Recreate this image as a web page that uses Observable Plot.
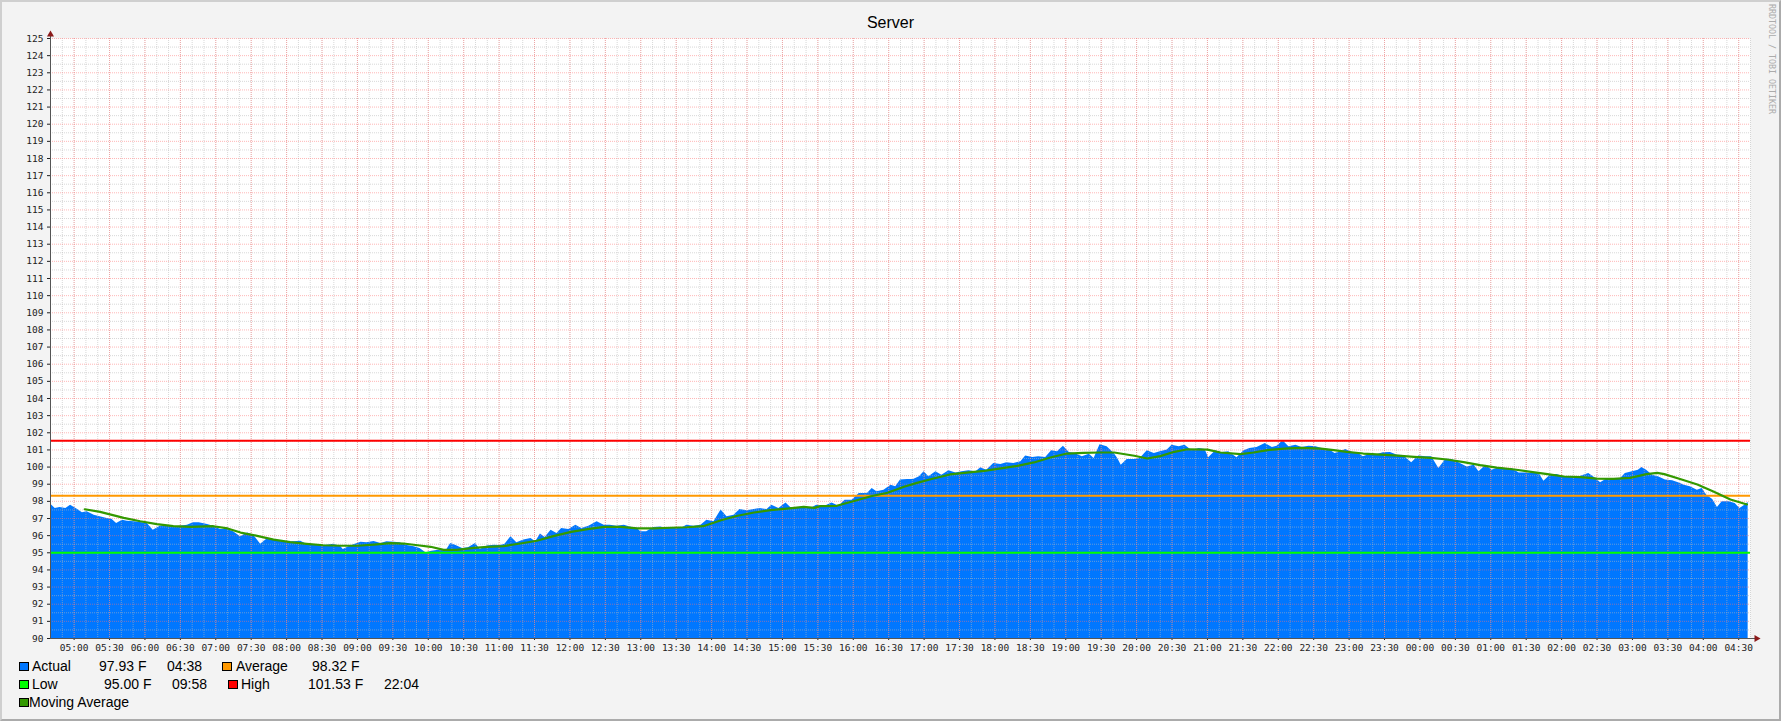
<!DOCTYPE html>
<html>
<head>
<meta charset="utf-8">
<script src="https://cdn.jsdelivr.net/npm/d3@7"></script>
<script src="https://cdn.jsdelivr.net/npm/@observablehq/plot@0.6"></script>
<style>
html, body { margin: 0; padding: 0; background: #f3f3f3; }
#wrap { position: relative; width: 1781px; height: 721px; background: #f3f3f3; overflow: hidden; font-family: "Liberation Sans", Arial, sans-serif; }
#border { position: absolute; left: 0; top: 0; width: 1781px; height: 721px; box-sizing: border-box; border: 2px solid #cfcfcf; border-right-color: #ababab; border-bottom-color: #ababab; pointer-events: none; }
#title { position: relative; height: 30px; }
#title span { position: absolute; left: 0; width: 1781px; top: 14.5px; text-align: center; font-size: 16px; line-height: 16px; color: #000; }
#chart { height: 625px; }
#chart svg { display: block; }
#legend { position: relative; height: 66px; font-size: 14px; line-height: 14px; color: #000; }
#legend span { position: absolute; white-space: pre; }
#legend .sw { position: absolute; width: 10px; height: 9px; box-sizing: border-box; border: 1px solid #000; }
#mark { position: absolute; left: 1767px; top: 4px; writing-mode: vertical-rl; font-family: "DejaVu Sans Mono", monospace; font-size: 8.3px; color: #ababab; white-space: pre; }
</style>
</head>
<body>
<div id="wrap">
  <div id="title"><span>Server</span></div>
  <div id="chart"></div>
  <div id="legend"></div>
  <div id="mark">RRDTOOL / TOBI OETIKER</div>
  <div id="border"></div>
</div>
<script>
// ---------- data ----------
const chartTitle = "Server";

// Actual temperature (time, °F)
const actual = [
["04:40",97.85],["04:44",97.58],["04:48",97.64],["04:53",97.58],["04:57",97.78],["05:03",97.52],["05:07",97.33],["05:11",97.39],
["05:17",97.19],["05:22",97.10],["05:28",97.00],["05:32",96.96],["05:36",96.71],["05:41",96.90],["05:45",96.84],["05:51",96.81],
["05:56",96.77],["06:02",96.71],["06:07",96.32],["06:13",96.55],["06:19",96.55],["06:24",96.51],["06:30",96.55],["06:36",96.61],
["06:41",96.75],["06:46",96.75],["06:53",96.65],["06:58",96.55],["07:04",96.36],["07:10",96.36],["07:15",96.22],["07:21",95.93],
["07:27",96.16],["07:32",96.03],["07:38",95.50],["07:44",95.83],["07:49",95.77],["07:55",95.64],["08:00",95.62],["08:06",95.64],
["08:12",95.68],["08:17",95.50],["08:23",95.46],["08:29",95.42],["08:34",95.44],["08:40",95.50],["08:46",95.35],["08:48",95.19],
["08:54",95.40],["09:03",95.62],["09:08",95.58],["09:14",95.66],["09:20",95.54],["09:25",95.64],["09:31",95.62],["09:36",95.58],
["09:42",95.42],["09:48",95.35],["09:53",95.25],["09:58",95.00],["10:03",95.09],["10:09",95.15],["10:15",95.11],["10:19",95.54],
["10:23",95.44],["10:29",95.25],["10:34",95.29],["10:40",95.54],
["10:44",95.19],["10:50",95.39],["10:56",95.44],["11:01",95.42],["11:05",95.50],["11:10",95.93],["11:15",95.58],["11:21",95.74],
["11:27",95.83],["11:31",95.64],["11:35",96.09],["11:39",95.89],["11:44",96.32],["11:49",96.12],["11:53",96.42],["11:59",96.36],
["12:05",96.61],["12:10",96.42],["12:16",96.55],["12:23",96.81],["12:29",96.61],["12:34",96.61],["12:40",96.55],["12:46",96.61],
["12:51",96.51],["12:57",96.42],["13:00",96.22],["13:05",96.22],["13:11",96.47],["13:17",96.51],["13:22",96.42],["13:28",96.47],
["13:34",96.42],["13:39",96.61],["13:45",96.55],["13:51",96.61],["13:56",96.90],["14:02",96.81],["14:08",97.49],["14:13",97.10],
["14:19",97.19],["14:24",97.52],["14:30",97.45],["14:36",97.52],["14:41",97.58],["14:47",97.52],["14:51",97.78],["14:57",97.58],
["15:03",97.91],["15:07",97.64],["15:12",97.64],["15:18",97.58],["15:24",97.58],["15:29",97.78],["15:35",97.68],["15:42",97.91],
["15:48",97.72],["15:53",98.07],["15:59",98.07],["16:05",98.46],["16:12",98.46],["16:16",98.75],["16:20",98.56],["16:26",98.65],
["16:32",98.94],["16:36",98.85],["16:40",99.24],["16:46",99.27],
["16:51",99.27],["16:56",99.43],["17:00",99.72],["17:04",99.43],["17:10",99.72],["17:15",99.53],["17:21",99.78],["17:27",99.66],
["17:32",99.72],["17:38",99.78],["17:44",99.72],["17:48",99.96],["17:53",99.82],["17:59",100.21],["18:05",100.15],["18:10",100.25],
["18:16",100.21],["18:22",100.31],["18:26",100.64],["18:32",100.56],["18:37",100.60],["18:43",100.56],["18:48",100.95],["18:53",100.89],
["18:58",101.22],["19:03",100.85],["19:08",100.79],["19:14",100.60],["19:20",100.75],["19:24",100.50],["19:29",101.30],["19:35",101.18],
["19:41",100.79],["19:44",100.50],["19:47",100.11],["19:52",100.44],["19:58",100.44],["20:03",100.50],["20:09",100.95],["20:15",100.79],
["20:20",100.89],["20:26",100.99],["20:30",101.28],["20:36",101.18],["20:41",101.28],["20:47",100.95],["20:53",101.08],["20:58",101.03],
["21:01",100.54],["21:07",100.95],["21:12",100.83],["21:18",100.89],["21:25",100.54],["21:31",100.95],["21:36",101.08],["21:42",101.14],
["21:49",101.37],["21:55",101.14],["21:59",101.22],["22:04",101.53],["22:09",101.18],["22:15",101.28],["22:20",101.14],["22:26",101.22],
["22:32",101.18],["22:37",101.08],["22:43",101.03],["22:48",100.79],
["22:53",100.89],["22:57",101.03],["23:03",100.85],["23:08",100.79],["23:12",100.60],["23:18",100.75],["23:24",100.73],["23:29",100.83],
["23:35",100.85],["23:41",100.69],["23:46",100.67],["23:53",100.25],["23:59",100.64],["00:05",100.60],["00:10",100.60],["00:16",99.92],
["00:22",100.46],["00:27",100.44],["00:33",100.25],["00:40",100.01],["00:46",100.11],["00:50",99.72],["00:56",100.11],["01:01",99.82],
["01:07",99.96],["01:12",99.92],["01:18",99.92],["01:24",99.66],["01:29",99.66],["01:35",99.62],["01:41",99.62],["01:45",99.18],
["01:51",99.57],["01:56",99.57],["02:02",99.43],["02:08",99.43],["02:15",99.43],["02:23",99.62],["02:29",99.33],["02:33",99.08],
["02:39",99.33],["02:44",99.33],["02:50",99.33],["02:54",99.62],["03:00",99.72],["03:05",99.82],["03:08",99.97],["03:12",99.82],
["03:17",99.53],["03:22",99.43],["03:28",99.24],["03:34",99.20],["03:39",99.08],["03:44",98.94],["03:49",98.85],["03:55",98.65],
["03:59",98.75],["04:03",98.36],["04:08",98.11],["04:12",97.64],["04:16",97.97],["04:22",97.97],["04:27",97.87],["04:31",97.58],
["04:34",97.72],["04:38",97.93]
];

// Moving average (time, °F)
const movingAverage = [
["05:09",97.54],["05:22",97.39],["05:42",97.04],["05:56",96.84],["06:10",96.67],["06:24",96.55],["06:39",96.51],["06:58",96.55],
["07:10",96.42],["07:21",96.18],["07:35",95.99],["07:49",95.77],["08:03",95.62],["08:17",95.52],["08:31",95.44],["08:46",95.41],
["09:00",95.41],["09:14",95.48],["09:28",95.56],["09:39",95.54],["09:51",95.44],["10:02",95.35],["10:13",95.17],["10:24",95.17],
["10:39",95.29],["10:50",95.35],["11:04",95.39],["11:18",95.54],["11:32",95.70],["11:46",95.97],["12:01",96.22],["12:15",96.38],
["12:29",96.51],["12:43",96.51],["12:57",96.42],["13:11",96.42],["13:25",96.46],["13:39",96.49],["13:53",96.55],["14:08",96.90],
["14:22",97.16],["14:36",97.35],["14:50",97.49],["15:04",97.58],["15:18",97.68],["15:27",97.62],["15:32",97.72],["15:46",97.74],
["16:00",98.01],["16:15",98.30],["16:29",98.50],["16:43",98.85],["16:54",99.08],["17:08",99.33],["17:22",99.57],["17:36",99.68],
["17:51",99.78],["18:05",99.92],["18:19",100.07],["18:33",100.27],["18:47",100.56],["19:01",100.79],["19:15",100.83],["19:29",100.85],
["19:41",100.85],["19:58",100.66],["20:09",100.50],["20:20",100.64],["20:32",100.89],["20:43",101.04],["21:00",101.02],["21:11",100.85],
["21:28",100.75],["21:39",100.85],["21:51",100.99],["22:05",101.08],["22:19",101.12],["22:36",101.08],["22:47",100.99],["22:58",100.89],
["23:12",100.79],["23:27",100.73],["23:41",100.67],["23:55",100.60],["00:09",100.54],["00:23",100.44],["00:37",100.29],["00:51",100.11],
["01:05",99.97],["01:20",99.86],["01:34",99.72],["01:48",99.59],["02:02",99.45],["02:16",99.41],["02:30",99.33],["02:44",99.31],
["02:58",99.37],["03:12",99.59],["03:21",99.66],["03:27",99.59],["03:41",99.29],["03:55",98.98],["04:09",98.56],["04:23",98.11],
["04:37",97.82]
];

const averageValue = 98.32;
const highValue = 101.53;
const lowValue = 95.00;

const xTickLabels = [
"05:00","05:30","06:00","06:30","07:00","07:30","08:00","08:30","09:00","09:30","10:00","10:30",
"11:00","11:30","12:00","12:30","13:00","13:30","14:00","14:30","15:00","15:30","16:00","16:30",
"17:00","17:30","18:00","18:30","19:00","19:30","20:00","20:30","21:00","21:30","22:00","22:30",
"23:00","23:30","00:00","00:30","01:00","01:30","02:00","02:30","03:00","03:30","04:00","04:30"
];
const yTickLabels = [90,91,92,93,94,95,96,97,98,99,100,101,102,103,104,105,106,107,108,109,110,111,112,113,114,115,116,117,118,119,120,121,122,123,124,125];

const timeStart = "04:40";
const timeEnd = "04:40";

const legendNames  = ["Actual", "Average", "Low", "High", "Moving Average"];
const legendColors = ["#0077ff", "#ff9900", "#00ff00", "#ff0000", "#339900"];
const legendValues = ["97.93 F", "98.32 F", "95.00 F", "101.53 F", ""];
const legendTimes  = ["04:38", "", "09:58", "22:04", ""];

// ---------- helpers ----------
const startMin = (() => { const [h, m] = timeStart.split(":").map(Number); return h * 60 + m; })();
function toMin(s) {
  const [h, m] = s.split(":").map(Number);
  let v = h * 60 + m;
  if (v < startMin) v += 1440;
  return v;
}
const endMin = (() => { const [h, m] = timeEnd.split(":").map(Number); return h * 60 + m + 1440; })();
const pad = n => String(n).padStart(2, "0");
const fmt = m => pad(Math.floor(m / 60) % 24) + ":" + pad(m % 60);

const actualData = actual.map(([t, v]) => ({t: toMin(t), v}));
const maData = movingAverage.map(([t, v]) => ({t: toMin(t), v}));
const xTicks = xTickLabels.map(toMin);

const yMin = yTickLabels[0], yMax = yTickLabels[yTickLabels.length - 1];
const minorX = d3.range(startMin, endMin + 1, 10);
const minorY = d3.range(yMin + 0.5, yMax, 1);
const majorY = yTickLabels.slice(1);

const mono = "'DejaVu Sans Mono', monospace";

const chart = Plot.plot({
  width: 1781,
  height: 625,
  marginLeft: 50,
  marginRight: 31,
  marginTop: 8,
  marginBottom: 17,
  style: {background: "transparent", fontFamily: mono, fontSize: "9.5px", overflow: "visible"},
  x: {type: "linear", domain: [startMin, endMin], axis: null, label: null},
  y: {type: "linear", domain: [yMin, yMax], axis: null, label: null},
  marks: [
    Plot.frame({fill: "white", stroke: null}),
    Plot.areaY(actualData, {x: "t", y1: yMin, y2: "v", fill: "#0077ff", curve: "linear"}),
    // grid
    Plot.ruleX(minorX, {stroke: "#b8b8b8", strokeOpacity: 0.55, strokeDasharray: "1,1"}),
    Plot.ruleY(minorY, {stroke: "#b8b8b8", strokeOpacity: 0.55, strokeDasharray: "1,1"}),
    Plot.ruleX(xTicks, {stroke: "#ff6f6f", strokeOpacity: 0.5, strokeDasharray: "1,1"}),
    Plot.ruleY(majorY, {stroke: "#ff6f6f", strokeOpacity: 0.5, strokeDasharray: "1,1"}),
    // horizontal statistics
    Plot.ruleY([highValue], {stroke: "#ff0000", strokeWidth: 2}),
    Plot.ruleY([averageValue], {stroke: "#ff9900", strokeWidth: 2}),
    Plot.ruleY([lowValue], {stroke: "#00ff00", strokeWidth: 2}),
    // moving average
    Plot.line(maData, {x: "t", y: "v", stroke: "#339900", strokeWidth: 2.2}),
    // axes
    Plot.axisY(yTickLabels, {tickSize: 3, tickPadding: 4, tickFormat: d => d, fontSize: 9.5, color: "#222", label: null}),
    Plot.axisX(xTicks, {tickSize: 2, tickPadding: 4, tickFormat: fmt, fontSize: 9.5, color: "#222", label: null}),
    Plot.ruleX([startMin], {y1: yMin, y2: yMax + 0.22, stroke: "#555"}),
    Plot.ruleY([yMin], {x1: startMin, x2: endMin + 5, stroke: "#555"}),
    Plot.dot([0], {x: () => startMin, y: () => yMax, dy: -4, symbol: "triangle", r: 2.6, fill: "#8b1a1a", stroke: null}),
    Plot.dot([0], {x: () => endMin, y: () => yMin, dx: 6, rotate: 90, symbol: "triangle", r: 2.6, fill: "#8b1a1a", stroke: null})
  ]
});
document.getElementById("chart").appendChild(chart);

// ---------- legend ----------
const legendLayout = [
  {row: 0, sw: 19, label: 32, value: 99, time: 167},
  {row: 0, sw: 222, label: 236, value: 312, time: null},
  {row: 1, sw: 19, label: 32, value: 104, time: 172},
  {row: 1, sw: 228, label: 241, value: 308, time: 384},
  {row: 2, sw: 19, label: 29, value: null, time: null}
];
const rowTop = [4.2, 21.9, 39.9];
const legend = document.getElementById("legend");
legendNames.forEach((name, i) => {
  const L = legendLayout[i];
  const sw = document.createElement("div");
  sw.className = "sw";
  sw.style.left = L.sw + "px";
  sw.style.top = (rowTop[L.row] + 3) + "px";
  sw.style.background = legendColors[i];
  legend.appendChild(sw);
  const add = (text, x) => {
    if (!text || x == null) return;
    const s = document.createElement("span");
    s.textContent = text;
    s.style.left = x + "px";
    s.style.top = rowTop[L.row] + "px";
    legend.appendChild(s);
  };
  add(name, L.label);
  add(legendValues[i], L.value);
  add(legendTimes[i], L.time);
});
</script>
</body>
</html>
